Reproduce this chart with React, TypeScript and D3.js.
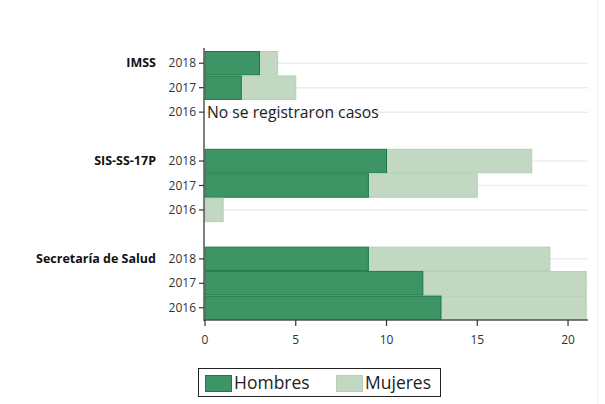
import * as d3 from "d3";
import { useRef, useEffect } from "react";

const groups = ["IMSS", "SIS-SS-17P", "Secretaría de Salud"];
const years = ["2018", "2017", "2016"];
// values per group, ordered like years
const hombres = [
  [3, 2, null],
  [10, 9, 0],
  [9, 12, 13],
];
const mujeres = [
  [1, 3, null],
  [8, 6, 1],
  [10, 9, 8],
];
const xTicks = [0, 5, 10, 15, 20];
const noDataText = "No se registraron casos";

export default function App() {
  const ref = useRef<SVGSVGElement>(null);

  useEffect(() => {
    const width = 605;
    const height = 404;
    const svg = d3.select(ref.current);
    svg.selectAll("*").remove();
    svg.attr("width", width).attr("height", height);

    const left = 205;
    const right = 588;
    const top = 51;
    const bottom = 320;
    const font = "'Open Sans', 'DejaVu Sans', sans-serif";

    // row slots, with an empty slot between groups
    const slots: string[] = [];
    const rows: { g: number; y: number; key: string }[] = [];
    groups.forEach((g, gi) => {
      if (gi > 0) slots.push(`gap${gi}`);
      years.forEach((y, yi) => {
        const key = `${gi}-${yi}`;
        slots.push(key);
        rows.push({ g: gi, y: yi, key });
      });
    });

    const yScale = d3.scaleBand().domain(slots).range([top, bottom]).padding(0);
    const x = d3.scaleLinear().domain([0, 21.1]).range([left, right]);

    svg.append("rect").attr("x", 597).attr("y", 0).attr("width", 1).attr("height", height).attr("fill", "#f3f3f3");

    // grid
    svg.append("g")
      .selectAll("line")
      .data(rows)
      .enter()
      .append("line")
      .attr("x1", left)
      .attr("x2", right)
      .attr("y1", d => yScale(d.key)! + yScale.bandwidth() / 2)
      .attr("y2", d => yScale(d.key)! + yScale.bandwidth() / 2)
      .attr("stroke", "#e9eff1")
      .attr("stroke-width", 1.5);

    const bars = svg.append("g");
    rows.forEach(r => {
      const h = hombres[r.g][r.y];
      const m = mujeres[r.g][r.y];
      const y0 = yScale(r.key)!;
      const bh = yScale.bandwidth();
      if (h === null || m === null) {
        svg.append("text")
          .attr("x", x(0) + 2)
          .attr("y", y0 + bh / 2 + 6)
          .text(noDataText)
          .style("font-family", font)
          .style("font-size", "15.7px")
          .attr("fill", "#222");
        return;
      }
      if (m > 0) {
        bars.append("rect")
          .attr("x", x(h))
          .attr("y", y0 + 0.5)
          .attr("width", x(h + m) - x(h))
          .attr("height", bh - 1)
          .attr("fill", "#c2d8c3")
          .attr("stroke", "#b3cfb5")
          .attr("stroke-width", 1);
      }
      if (h > 0) {
        bars.append("rect")
          .attr("x", x(0))
          .attr("y", y0 + 0.5)
          .attr("width", x(h) - x(0))
          .attr("height", bh - 1)
          .attr("fill", "#3d9464")
          .attr("stroke", "#1b7a45")
          .attr("stroke-width", 1);
      }
    });

    // left axis
    const yAxis = svg.append("g");
    yAxis.append("line")
      .attr("x1", left - 1).attr("x2", left - 1)
      .attr("y1", 48).attr("y2", bottom + 1)
      .attr("stroke", "#555").attr("stroke-width", 1.5);
    rows.forEach(r => {
      const cy = yScale(r.key)! + yScale.bandwidth() / 2;
      yAxis.append("line")
        .attr("x1", left - 6).attr("x2", left - 1)
        .attr("y1", cy).attr("y2", cy)
        .attr("stroke", "#333").attr("stroke-width", 1.2);
      yAxis.append("text")
        .attr("x", left - 9)
        .attr("y", cy + 4)
        .attr("text-anchor", "end")
        .text(years[r.y])
        .style("font-family", font)
        .style("font-size", "12px")
        .attr("fill", "#333");
      if (r.y === 0) {
        yAxis.append("text")
          .attr("x", 156)
          .attr("y", cy + 4)
          .attr("text-anchor", "end")
          .text(groups[r.g])
          .style("font-family", font)
          .style("font-size", "12.5px")
          .style("font-weight", "bold")
          .attr("fill", "#111");
      }
    });

    // bottom axis
    const xAxis = svg.append("g").attr("transform", `translate(0, ${bottom})`);
    xAxis.append("line")
      .attr("x1", left - 1).attr("x2", right)
      .attr("y1", 0).attr("y2", 0)
      .attr("stroke", "#555").attr("stroke-width", 1.5);
    xAxis.selectAll("g.tick")
      .data(xTicks)
      .enter()
      .append("g")
      .attr("transform", d => `translate(${x(d)}, 0)`)
      .each(function (d) {
        const t = d3.select(this);
        t.append("line").attr("y1", 0).attr("y2", 6).attr("stroke", "#333").attr("stroke-width", 1.2);
        t.append("text")
          .attr("y", 24)
          .attr("text-anchor", "middle")
          .text(d)
          .style("font-family", font)
          .style("font-size", "12px")
          .attr("fill", "#333");
      });

    // legend
    const lg = svg.append("g");
    lg.append("rect")
      .attr("x", 198.5).attr("y", 368.5).attr("width", 242).attr("height", 28)
      .attr("fill", "#fff").attr("stroke", "#222").attr("stroke-width", 1);
    const items = [
      { label: "Hombres", x: 205, fill: "#3d9464", stroke: "#1b7a45" },
      { label: "Mujeres", x: 336, fill: "#c2d8c3", stroke: "#b3cfb5" },
    ];
    items.forEach(it => {
      lg.append("rect")
        .attr("x", it.x + 0.5).attr("y", 375.5).attr("width", 26).attr("height", 16)
        .attr("fill", it.fill).attr("stroke", it.stroke);
      lg.append("text")
        .attr("x", it.x + 29)
        .attr("y", 389)
        .text(it.label)
        .style("font-family", font)
        .style("font-size", "17.5px")
        .attr("fill", "#222");
    });
  }, []);

  return <svg ref={ref} style={{ position: "absolute", left: 0, top: 0 }}></svg>;
}
